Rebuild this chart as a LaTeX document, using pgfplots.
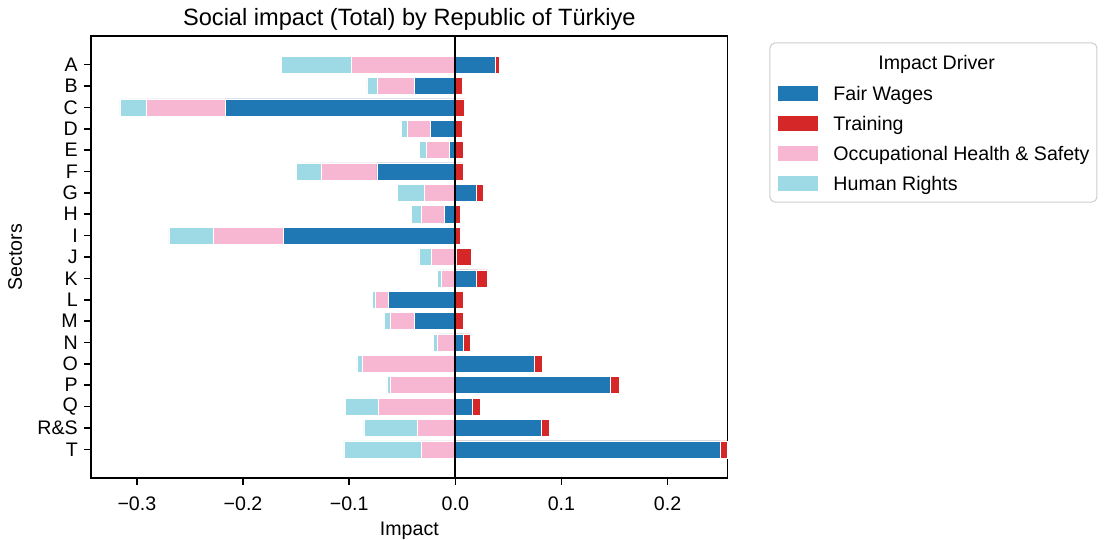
\documentclass[border=0pt]{standalone}
\usepackage{pgfplots}
\pgfplotsset{compat=1.18}
\usepackage{pgfplotstable}
\usepackage{fontspec}
\setmainfont{Liberation Sans}
\definecolor{cFW}{HTML}{1F77B4}
\definecolor{cTR}{HTML}{D62728}
\definecolor{cOHS}{HTML}{F7B6D2}
\definecolor{cHR}{HTML}{9EDAE5}
\definecolor{cFrame}{HTML}{CCCCCC}

% fw = Fair Wages, tr = Training, ohs = Occupational Health & Safety, hr = Human Rights
\pgfplotstableread{
idx fw tr ohs hr
0 0.0375 0.0042 -0.0981 -0.0654
1 -0.0387 0.0063 -0.0349 -0.0097
2 -0.2166 0.0089 -0.0745 -0.0249
3 -0.0236 0.0063 -0.0217 -0.0053
4 -0.0059 0.0075 -0.0217 -0.0066
5 -0.0739 0.0075 -0.0528 -0.0229
6 0.0195 0.0069 -0.0289 -0.0258
7 -0.0100 0.0047 -0.0217 -0.0094
8 -0.1623 0.0047 -0.0654 -0.0422
9 0.0010 0.0139 -0.0223 -0.0120
10 0.0195 0.0110 -0.0128 -0.0038
11 -0.0632 0.0075 -0.0119 -0.0028
12 -0.0387 0.0075 -0.0229 -0.0054
13 0.0075 0.0070 -0.0166 -0.0042
14 0.0742 0.0082 -0.0874 -0.0054
15 0.1462 0.0082 -0.0616 -0.0028
16 0.0158 0.0082 -0.0726 -0.0311
17 0.0811 0.0079 -0.0358 -0.0503
18 0.2494 0.0072 -0.0317 -0.0733
}\data

\begin{document}
\begin{tikzpicture}
\path[use as bounding box] (-45.5pt,-31pt) rectangle (507pt,239pt);
\begin{axis}[
  at={(0pt,0pt)}, anchor=south west,
  scale only axis, width=318.35pt, height=221pt,
  xmin=-0.3432, xmax=0.2566, ymin=-1.34, ymax=19.34,
  y dir=reverse,
  clip=false,
  axis line style={black, line width=0.78pt},
  tick style={black, line width=0.78pt},
  tick align=outside, major tick length=3.4pt,
  xtick={-0.3,-0.2,-0.1,0,0.1,0.2},
  xticklabels={−0.3,−0.2,−0.1,0.0,0.1,0.2},
  ytick={0,...,18},
  yticklabels={A,B,C,D,E,F,G,H,I,J,K,L,M,N,O,P,Q,R\&S,T},
  xtick pos=bottom, ytick pos=left,
  tick label style={font=\fontsize{9.8}{11.8}\selectfont},
  xticklabel style={anchor=base, inner sep=0pt, yshift=-13pt},
  yticklabel style={anchor=east, inner sep=0pt, xshift=-3pt},
  xlabel={Impact}, ylabel={Sectors},
  label style={font=\fontsize{9.8}{11.8}\selectfont},
  xlabel style={at={(axis description cs:0.5,-0.129)}, anchor=base, inner sep=0pt},
  ylabel style={at={(axis description cs:-0.1084,0.5)}, anchor=base, inner sep=0pt, rotate=0},
  title={Social impact (Total) by Republic of Türkiye},
  title style={font=\fontsize{11.8}{14}\selectfont, at={(axis description cs:0.5,0.9977)}, anchor=base, inner sep=0pt, yshift=0pt},
  legend style={at={(axis description cs:1.0779,0.8891)}, anchor=north west,
    draw=none, fill=none, inner sep=0pt, row sep=5.5pt,
    font=\fontsize{9.8}{11.8}\selectfont,
    nodes={inner sep=0pt, text height=7.5pt, text depth=2pt},
    /tikz/every odd column/.append style={column sep=8pt}},
  legend cell align=left,
  bar width=0.8, bar shift=0pt,
]
% Positive side: Training on top of positive Fair Wages
\addplot[xbar, bar shift=0pt, fill=cTR, draw=white, line width=0.3pt, forget plot]
  table[x expr={max(\thisrow{fw},0)+\thisrow{tr}}, y=idx]{\data};
% Negative side: Human Rights, Occupational Health & Safety, then Fair Wages
\addplot[xbar, bar shift=0pt, fill=cHR, draw=white, line width=0.3pt, forget plot]
  table[x expr={min(\thisrow{fw},0)+\thisrow{ohs}+\thisrow{hr}}, y=idx]{\data};
\addplot[xbar, bar shift=0pt, fill=cOHS, draw=white, line width=0.3pt, forget plot]
  table[x expr={min(\thisrow{fw},0)+\thisrow{ohs}}, y=idx]{\data};
\addplot[xbar, bar shift=0pt, fill=cFW, draw=white, line width=0.3pt, forget plot]
  table[x=fw, y=idx]{\data};

\draw[black, line width=0.9pt] (axis cs:0,-1.34) -- (axis cs:0,19.34);

\addlegendimage{legend image code/.code={\fill[cFW] (0pt,-2.5pt) rectangle (19.5pt,4.5pt);}}
\addlegendentry{Fair Wages}
\addlegendimage{legend image code/.code={\fill[cTR] (0pt,-2.5pt) rectangle (19.5pt,4.5pt);}}
\addlegendentry{Training}
\addlegendimage{legend image code/.code={\fill[cOHS] (0pt,-2.5pt) rectangle (19.5pt,4.5pt);}}
\addlegendentry{Occupational Health \& Safety}
\addlegendimage{legend image code/.code={\fill[cHR] (0pt,-2.5pt) rectangle (19.5pt,4.5pt);}}
\addlegendentry{Human Rights}

\draw[cFrame, line width=0.5pt, rounded corners=2.5pt]
  (axis description cs:1.0664,0.9842) rectangle (axis description cs:1.5800,0.6244);
\node[anchor=base, inner sep=0pt, font=\fontsize{9.8}{11.8}\selectfont]
  at (axis description cs:1.3282,0.9235) {Impact Driver};
\end{axis}
\end{tikzpicture}
\end{document}
